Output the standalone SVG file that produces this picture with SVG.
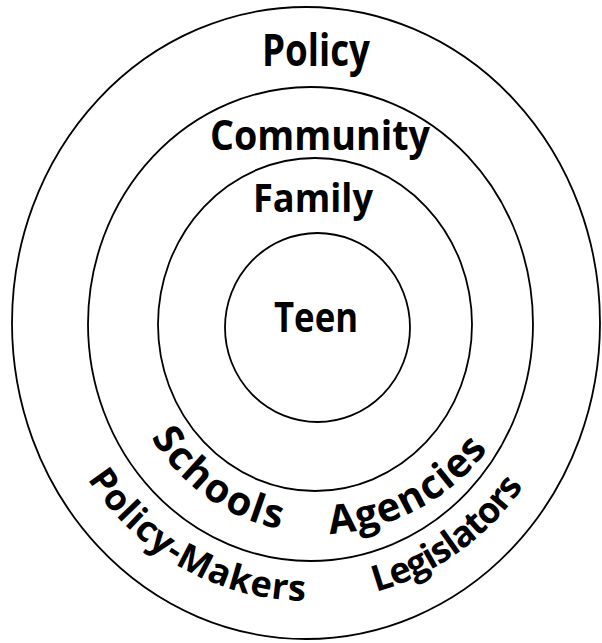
<svg xmlns="http://www.w3.org/2000/svg" xmlns:xlink="http://www.w3.org/1999/xlink" width="602" height="643" viewBox="0 0 602 643">
<style>
.ring{fill:none;stroke:#000;stroke-width:1.8}
.lbl{font-family:"Open Sans","Noto Sans","DejaVu Sans",sans-serif;font-weight:bold;fill:#000}
</style>
<defs>
<path id="pSchools" d="M151.1,437.3 A193,208 0 0,0 282.8,529.4"/>
<path id="pAgencies" d="M329.8,533.7 A212,210 0 0,0 490,446.8"/>
<path id="pMakers" d="M87.5,478.9 A266,277 0 0,0 309.9,601"/>
<path id="pLegis" d="M375.9,591.8 A266,277 0 0,0 525.1,484.1"/>
</defs>
<rect width="602" height="643" fill="#fff"/>
<g id="policy">
<ellipse class="ring" cx="306" cy="323" rx="294" ry="316"/>
<text class="lbl" x="316" y="66" font-size="44" text-anchor="middle" textLength="108" lengthAdjust="spacingAndGlyphs">Policy</text>
<text class="lbl" font-size="36"><textPath xlink:href="#pMakers" href="#pMakers" textLength="260" lengthAdjust="spacing">Policy-Makers</textPath></text>
<text class="lbl" font-size="36"><textPath xlink:href="#pLegis" href="#pLegis" textLength="185" lengthAdjust="spacing">Legislators</textPath></text>
</g>
<g id="community">
<ellipse class="ring" cx="310.5" cy="324" rx="222.5" ry="237"/>
<text class="lbl" x="320" y="150" font-size="42" text-anchor="middle" textLength="220" lengthAdjust="spacingAndGlyphs">Community</text>
<text class="lbl" font-size="40"><textPath xlink:href="#pSchools" href="#pSchools" textLength="163" lengthAdjust="spacing">Schools</textPath></text>
<text class="lbl" font-size="40"><textPath xlink:href="#pAgencies" href="#pAgencies" textLength="185" lengthAdjust="spacing">Agencies</textPath></text>
</g>
<g id="family">
<ellipse class="ring" cx="315" cy="324.5" rx="157" ry="166.5"/>
<text class="lbl" x="313" y="212" font-size="40" text-anchor="middle" textLength="120" lengthAdjust="spacingAndGlyphs">Family</text>
</g>
<g id="teen">
<ellipse class="ring" cx="317.5" cy="327.5" rx="92.5" ry="94.5"/>
<text class="lbl" x="316" y="332" font-size="41" text-anchor="middle" textLength="84" lengthAdjust="spacingAndGlyphs">Teen</text>
</g>
</svg>
